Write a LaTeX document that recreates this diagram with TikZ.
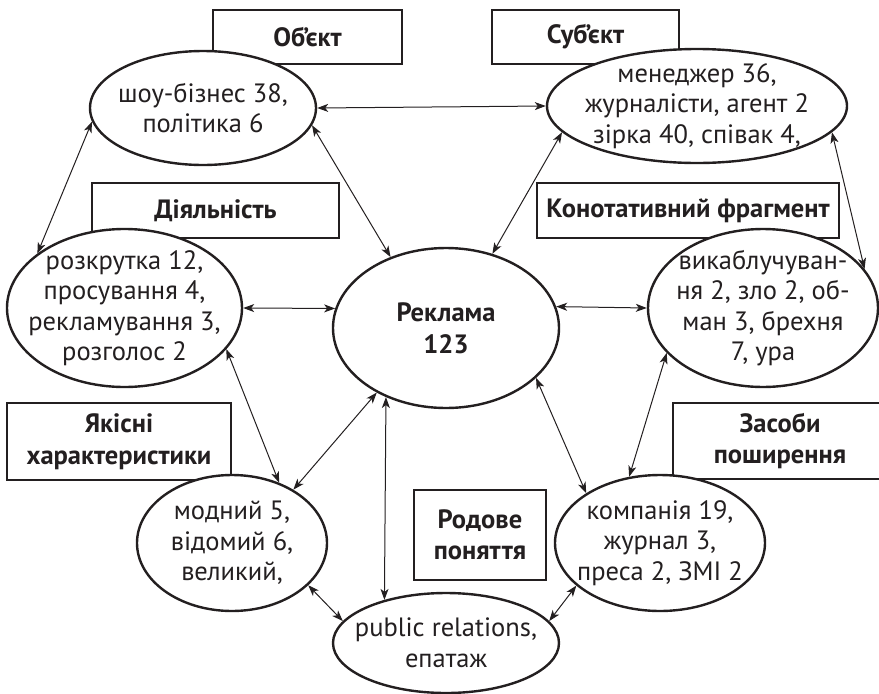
\documentclass[tikz,border=0pt]{standalone}
\usepackage{fontspec}
\setmainfont{PT Sans}
\usetikzlibrary{shapes.geometric,arrows.meta}
\definecolor{ink}{RGB}{35,31,32}
\begin{document}
\begin{tikzpicture}[x=1pt,y=-1pt,
    oval/.style={ellipse,draw=ink,line width=2.4pt,fill=white,inner sep=0pt},
    ovaltext/.style={align=center,text=ink,inner sep=0pt,font=\fontsize{26.5}{30.5}\selectfont},
    tag/.style={rectangle,draw=ink,line width=2pt,inner sep=0pt,align=center,text=ink,
      font=\fontsize{26.5}{31.5}\selectfont\bfseries},
    link/.style={draw=ink,line width=1pt,
      {Stealth[length=11pt,width=8pt,inset=3pt]}-{Stealth[length=11pt,width=8pt,inset=3pt]}}]
        \useasboundingbox (0,0) rectangle (879,694);%

        % Boxes with the category names
        \node [tag,minimum width=189pt,minimum height=54pt] (objbox) at (307.5,37) {Об’єкт};%
        \node [tag,minimum width=187pt,minimum height=54pt] (subjbox) at (585.5,37) {Суб’єкт};%
        \node [tag,minimum width=247pt,minimum height=55pt] (actbox) at (215.5,210.5) {Діяльність};%
        \node [tag,minimum width=302pt,minimum height=55pt] (connbox) at (688,210.5) {Конотативний фрагмент};%
        \node [tag,minimum width=224pt,minimum height=77pt] (qualbox) at (119,441.5) {Якісні\\характеристики};%
        \node [tag,minimum width=132pt,minimum height=90pt] (genbox) at (480,535) {Родове\\поняття};%
        \node [tag,minimum width=214pt,minimum height=76pt] (mediabox) at (780,441) {Засоби\\поширення};%

        % Ellipses with the words found
        \node [oval,minimum width=226pt,minimum height=114pt,
          label={[ovaltext]center:{шоу-бізнес 38,\\політика 6}}] (obj) at (203,108) {};%
        \node [oval,minimum width=300pt,minimum height=114pt,
          label={[ovaltext]center:{менеджер 36,\\журналісти, агент 2\\зірка 40, співак 4,}}] (subj) at (697,106) {};%
        \node [oval,minimum width=235pt,minimum height=158pt,
          label={[ovaltext]center:{розкрутка 12,\\просування 4,\\рекламування 3,\\розголос 2}}] (act) at (124.5,308) {};%
        \node [oval,minimum width=226pt,minimum height=160pt,
          label={[ovaltext,font=\fontsize{26.5}{32}\selectfont\bfseries]center:{Реклама\\123}}] (ad) at (446,328) {};%
        \node [oval,minimum width=230pt,minimum height=158pt,
          label={[ovaltext]center:{викаблучуван-\\ня 2, зло 2, об-\\ман 3, брехня\\7, ура}}] (conn) at (763,308) {};%
        \node [oval,minimum width=190pt,minimum height=136pt,
          label={[ovaltext]center:{модний 5,\\відомий 6,\\великий,}}] (qual) at (232,543) {};%
        \node [oval,minimum width=210pt,minimum height=136pt,
          label={[ovaltext]center:{компанія 19,\\журнал 3,\\преса 2, ЗМІ 2}}] (media) at (660,543) {};%
        \node [oval,minimum width=226pt,minimum height=100pt,
          label={[ovaltext]center:{public relations,\\епатаж}}] (gen) at (446,643) {};%

        % Links between the ellipses
        \draw [link] (obj.east) -- (subj.west);%
        \draw [link] (obj.187) -- (act.148);%
        \draw [link] (obj.-9) -- (ad.128);%
        \draw [link] (subj.191) -- (ad.58);%
        \draw [link] (subj.-11) -- (conn.21);%
        \draw [link] (act.east) -- (ad.170);%
        \draw [link] (ad.11) -- (conn.west);%
        \draw [link] (act.-22) -- (qual.52);%
        \draw [link] (ad.223) -- (qual.41);%
        \draw [link] (ad.229) -- (gen.145);%
        \draw [link] (qual.-29) -- (gen.168);%
        \draw [link] (ad.-29) -- (media.146);%
        \draw [link] (conn.205) -- (media.115);%
        \draw [link] (gen.12) -- (media.207);%
    \end{tikzpicture}
\end{document}
